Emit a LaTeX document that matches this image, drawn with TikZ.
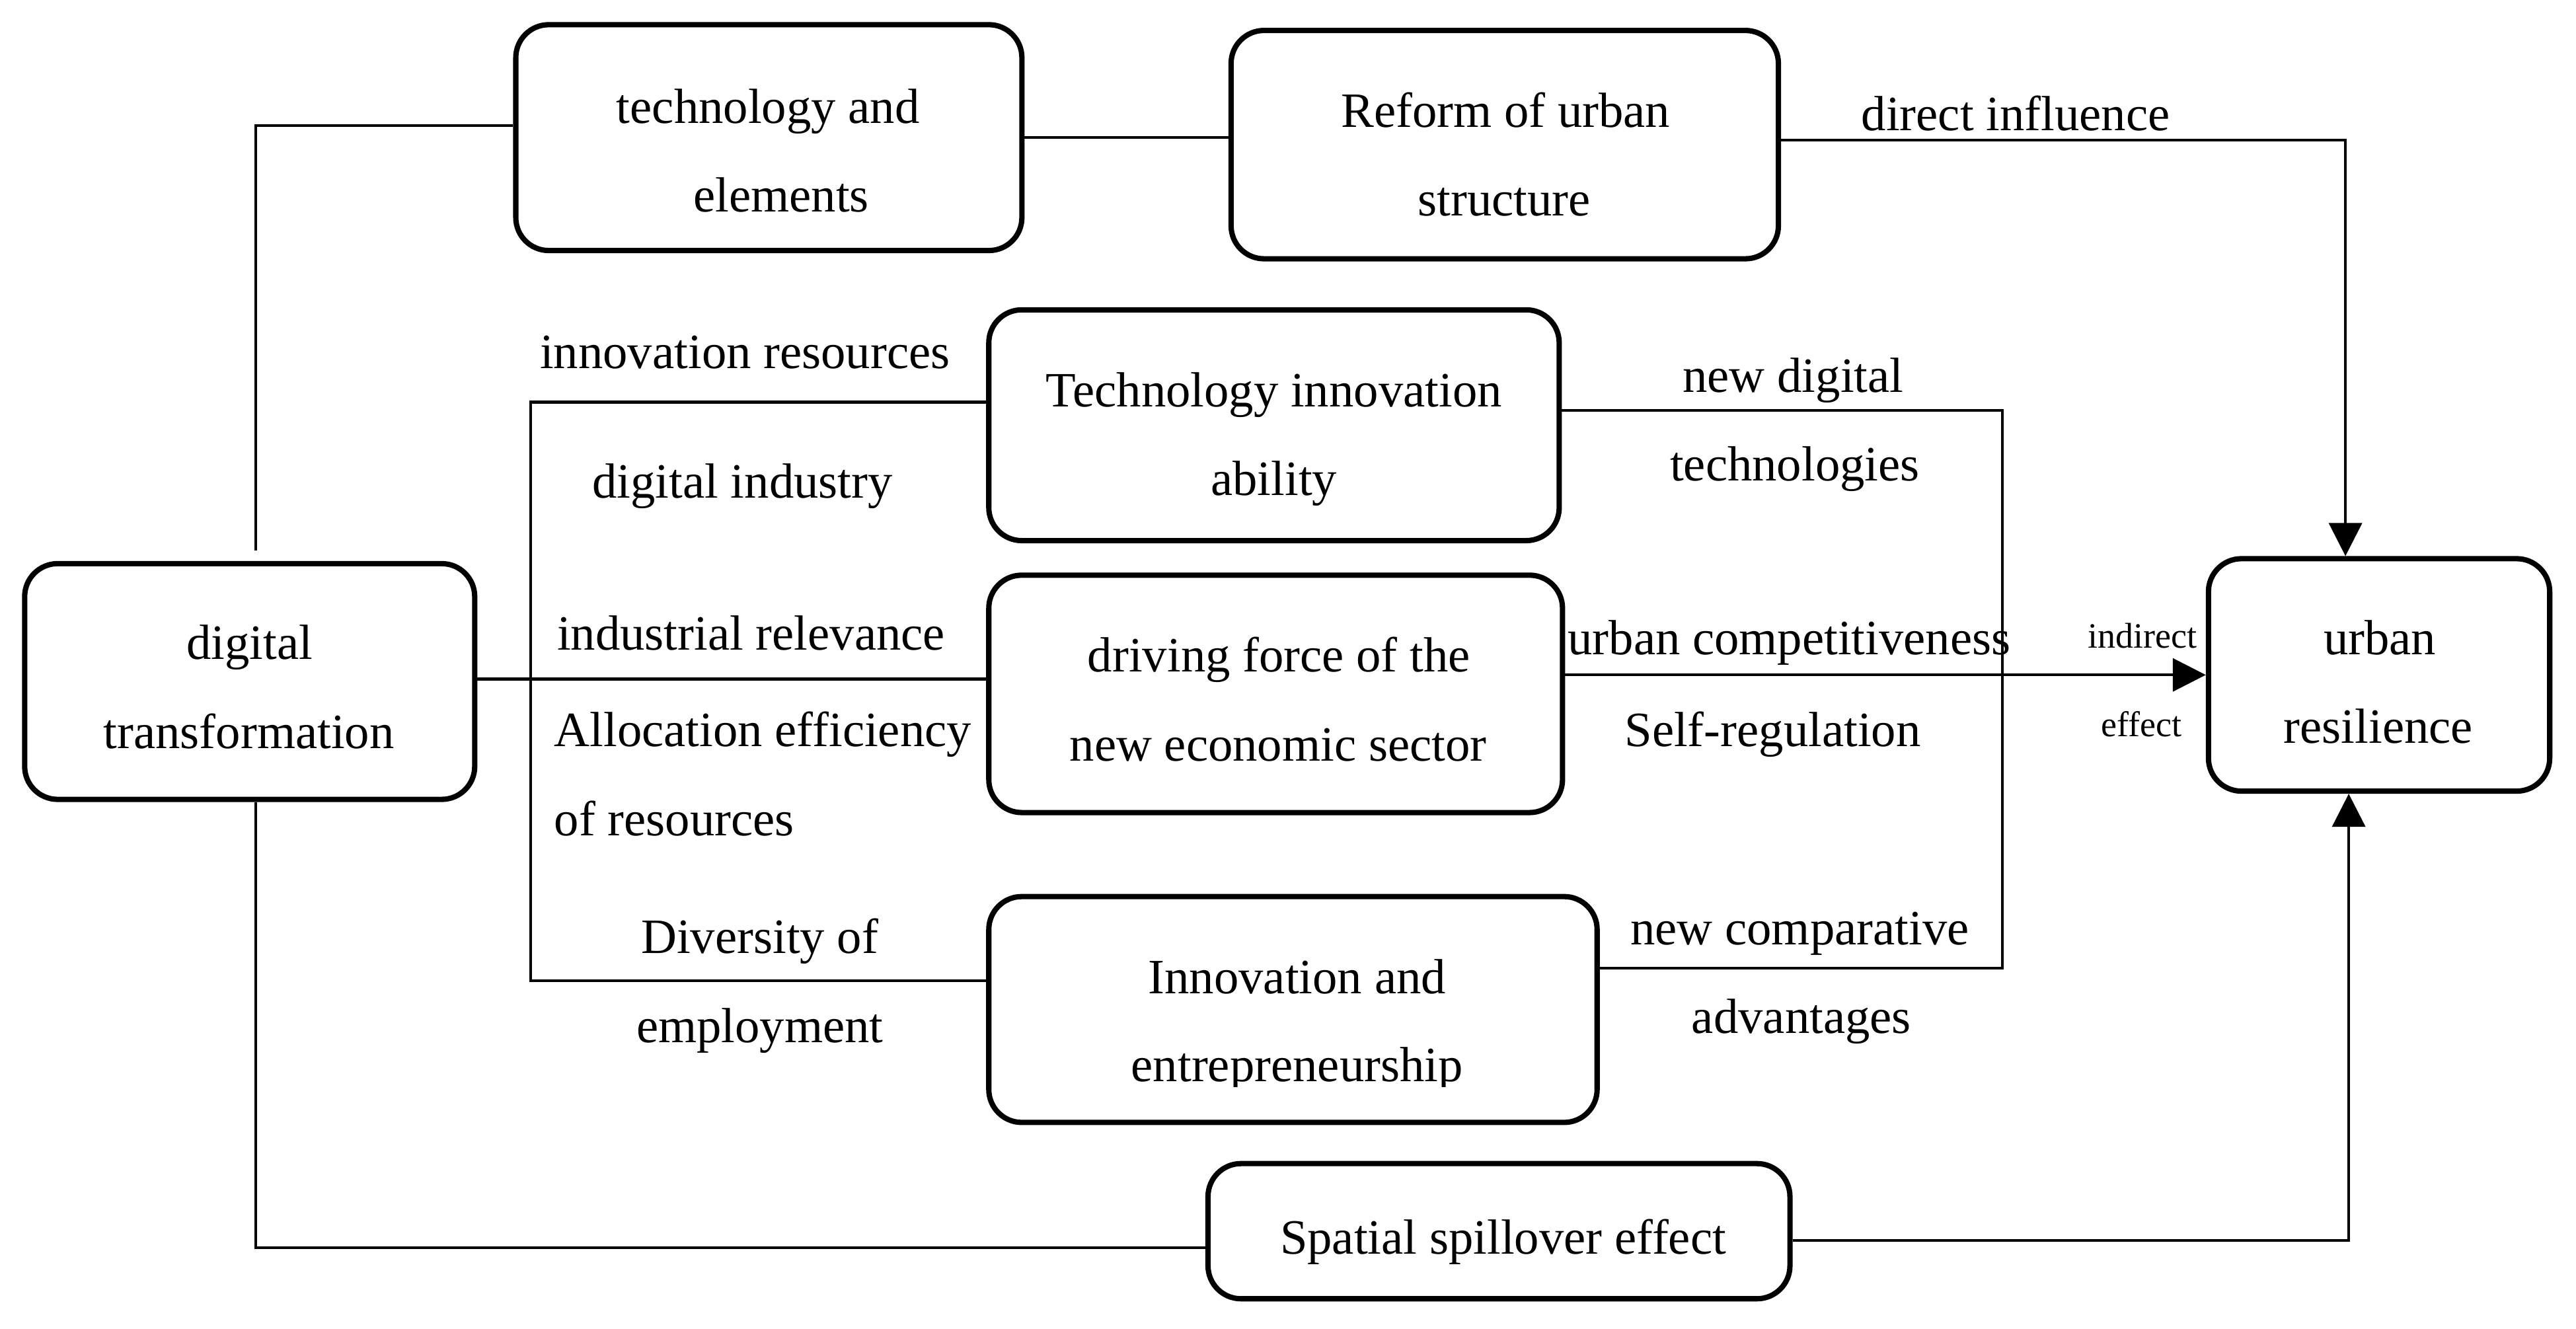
\documentclass[tikz,border=0pt]{standalone}
\usepackage{fontspec}
\setmainfont{Liberation Serif}
\usetikzlibrary{arrows.meta}
\tikzset{
  box/.style={draw, line width=2.3pt, rounded corners=0.5cm, inner sep=0pt},
  conn/.style={line width=1.15pt},
  tip/.style={-{Triangle[length=0.5cm,width=0.5cm]}},
  lbl/.style={anchor=base, inner sep=0pt, font=\fontsize{21.3}{25}\selectfont},
  lblw/.style={anchor=base west, inner sep=0pt, font=\fontsize{21.3}{25}\selectfont},
  small/.style={anchor=base, inner sep=0pt, font=\fontsize{15.4}{18}\selectfont},
}
\begin{document}
\begin{tikzpicture}[x=0.025cm, y=-0.025cm]
\useasboundingbox[fill=white] (0,0) rectangle (1563,806);

% boxes
\node[box, minimum width=7.675cm, minimum height=3.425cm] (tech) at (466.5,83.5) {};
\node[box, minimum width=8.3cm, minimum height=3.4625cm] (reform) at (913,87.75) {};
\node[box, minimum width=8.65cm, minimum height=3.5cm] (tia) at (773,258) {};
\node[box, minimum width=8.7cm, minimum height=3.6cm] (drv) at (774,421) {};
\node[box, minimum width=9.225cm, minimum height=3.425cm] (inn) at (784.5,612.5) {};
\node[box, minimum width=6.825cm, minimum height=3.575cm] (dt) at (151.5,413.5) {};
\node[box, minimum width=5.175cm, minimum height=3.525cm] (ur) at (1443.5,409.5) {};
\node[box, minimum width=8.825cm, minimum height=2.05cm] (sp) at (909.5,747) {};

% box texts
\node[lbl] (t1a) at (466,74.6) {technology and};
\node[lbl] (t1b) at (474,128.6) {elements};
\node[lbl] (t2a) at (913.5,77) {Reform of urban};
\node[lbl] (t2b) at (912.7,131) {structure};
\node[lbl] (t3a) at (773,246.7) {Technology innovation};
\node[lbl] (t3b) at (773,300.7) {ability};
\node[lbl] (t4a) at (776,407.6) {driving force of the};
\node[lbl] (t4b) at (775.5,461.6) {new economic sector};
\node[lbl] (t5a) at (787,603) {Innovation and};
\begin{scope}
  \clip (600,560) rectangle (969,659.5);
  \node[lbl] (t5b) at (787,656) {entrepreneurship};
\end{scope}
\node[lbl] (t6a) at (151.5,400) {digital};
\node[lbl] (t6b) at (151,454) {transformation};
\node[lbl] (t7a) at (1444,397) {urban};
\node[lbl] (t7b) at (1443,451) {resilience};
\node[lbl] (t8) at (912,760.7) {Spatial spillover effect};

% connector coordinates
\coordinate (dtTop) at (155,334);
\coordinate (bt) at (322,244);
\coordinate (bb) at (322,595);
\coordinate (rt) at (1215,249);
\coordinate (rb) at (1215,587.5);

% connectors
\draw[conn] ([yshift=0.1875cm]tech.west) -| (dtTop);
\draw[conn] (tech.east) -- (tech.east -| reform.west);
\draw[conn, tip] ([yshift=0.07cm]reform.east) -| ([xshift=-0.51cm]ur.north);
\draw[conn] ([yshift=0.0375cm]dt.east) -- ([yshift=0.0375cm]dt.east -| drv.west);
\draw[conn] (tia.west |- bt) -- (bt) -- (bb) -- (bb -| inn.west);
\draw[conn] (tia.east |- rt) -- (rt) -- (rb) -- (rb -| inn.east);
\draw[conn, tip] (drv.east |- ur.west) -- (ur.west);
\draw[conn] ([xshift=0.09cm]dt.south) |- ([yshift=-0.25cm]sp.west);
\draw[conn, tip] ([yshift=-0.14cm]sp.east) -| ([xshift=-0.46cm]ur.south);

% connector labels
\node[lbl] (l1) at (1223,79) {direct influence};
\node[lbl] (l2) at (452,223.6) {innovation resources};
\node[lbl] (l3) at (450.5,302) {digital industry};
\node[lbl] (l4) at (455.7,394.5) {industrial relevance};
\node[lblw] (l5) at (336,453) {Allocation efficiency};
\node[lblw] (l6) at (336,507) {of resources};
\node[lbl] (l7) at (461,578.5) {Diversity of};
\node[lbl] (l8) at (461,632.4) {employment};
\node[lbl] (l9) at (1088,237.8) {new digital};
\node[lbl] (l10) at (1089,291.7) {technologies};
\node[lbl] (l11) at (1085.6,397) {urban competitiveness};
\node[lbl] (l12) at (1075.6,453) {Self-regulation};
\node[lbl] (l13) at (1092,573) {new comparative};
\node[lbl] (l14) at (1093,627) {advantages};
\node[small] (l15) at (1300,393) {indirect};
\node[small] (l16) at (1299.5,447) {effect};
\end{tikzpicture}
\end{document}
